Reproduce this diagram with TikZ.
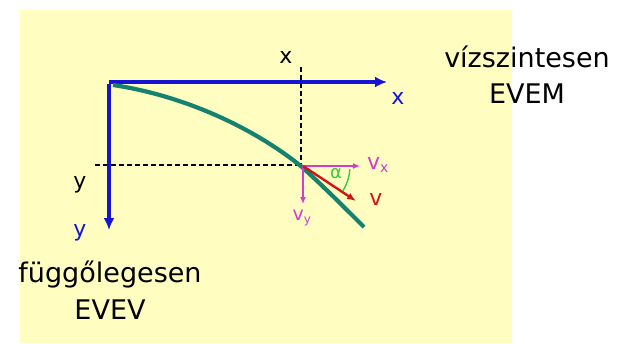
\documentclass[tikz,border=0pt]{standalone}
\usepackage{fontspec}
\setmainfont{DejaVu Sans}
\usetikzlibrary{arrows.meta}
\definecolor{bgyellow}{RGB}{255,253,192}
\definecolor{axisblue}{RGB}{20,20,210}
\definecolor{curveteal}{RGB}{20,130,110}
\definecolor{vmag}{RGB}{210,60,210}
\definecolor{vred}{RGB}{210,20,20}
\definecolor{agreen}{RGB}{60,200,60}
\tikzset{
  axis/.style={axisblue,line width=3.2pt,-{Latex[length=12pt,width=11pt]}},
  guide/.style={black,line width=1.1pt,dash pattern=on 5pt off 3pt},
  comp/.style={vmag,line width=1.6pt,-{Latex[length=7pt,width=6pt]}},
  vel/.style={vred,line width=2.4pt,-{Latex[length=9pt,width=7pt]}},
  big/.style={font=\fontsize{27}{32}\selectfont,align=center,inner sep=0pt},
  small/.style={font=\fontsize{22}{24}\selectfont,inner sep=0pt},
}
\begin{document}
\begin{tikzpicture}[x=1pt,y=-1pt]
\useasboundingbox (0,0) rectangle (626,343);
\fill[bgyellow] (20,10) rectangle (512,343);
% coordinates
\coordinate (O) at (109,82);
\coordinate (Xe) at (387,82);
\coordinate (Ye) at (109,230);
\coordinate (S) at (113,85);
\coordinate (C) at (302,167);
\coordinate (E) at (364,227);
\coordinate (P) at (303,166);
\coordinate (Dt) at (301,67);
\coordinate (Dl) at (95,165);
\coordinate (Dp) at (301,165);
\coordinate (VX) at (360,166);
\coordinate (VY) at (303,204);
\coordinate (V) at (356,201);
% dashed guides
\draw[guide] (Dt) -- (Dp);
\draw[guide] (Dl) -- (Dp);
% axes
\draw[axis] (O) -- (Xe);
\draw[axis] ([yshift=-1.6pt]O) -- (Ye);
% trajectory
\draw[curveteal,line width=4.2pt] (S) .. controls (180,95) and (250,125) .. (C)
   .. controls (323,186) and (345,208) .. (E);
% velocity components
\draw[comp] (P) -- (VX);
\draw[comp] (P) -- (VY);
\draw[vel] (P) -- (V);
\draw[agreen,line width=1.4pt] ([shift={(4:47)}]P) arc[start angle=4,end angle=32,radius=47];
% labels
\node[small] (lx) at (286,57) {x};
\node[small,text=axisblue] (lxb) at (398,98) {x};
\node[small] (ly) at (80,185) {y};
\node[small,text=axisblue] (lyb) at (80,233) {y};
\node[small,text=vmag] (lvx) at (378,165) {v\textsubscript{\fontsize{14}{15}\selectfont x}};
\node[small,text=vmag,font=\fontsize{19}{20}\selectfont] (lvy) at (302,218) {v\textsubscript{\fontsize{12}{13}\selectfont y}};
\node[small,text=vred] (lv) at (376,199) {v};
\node[text=agreen,font=\fontsize{18}{19}\selectfont,inner sep=0pt] (la) at (336,174) {α};
\node[big,anchor=base] (t1) at (527,67) {vízszintesen};
\node[big,anchor=base] (t2) at (527,103) {EVEM};
\node[big,anchor=base] (t3) at (110,282) {függőlegesen};
\node[big,anchor=base] (t4) at (110,319) {EVEV};
\end{tikzpicture}
\end{document}
